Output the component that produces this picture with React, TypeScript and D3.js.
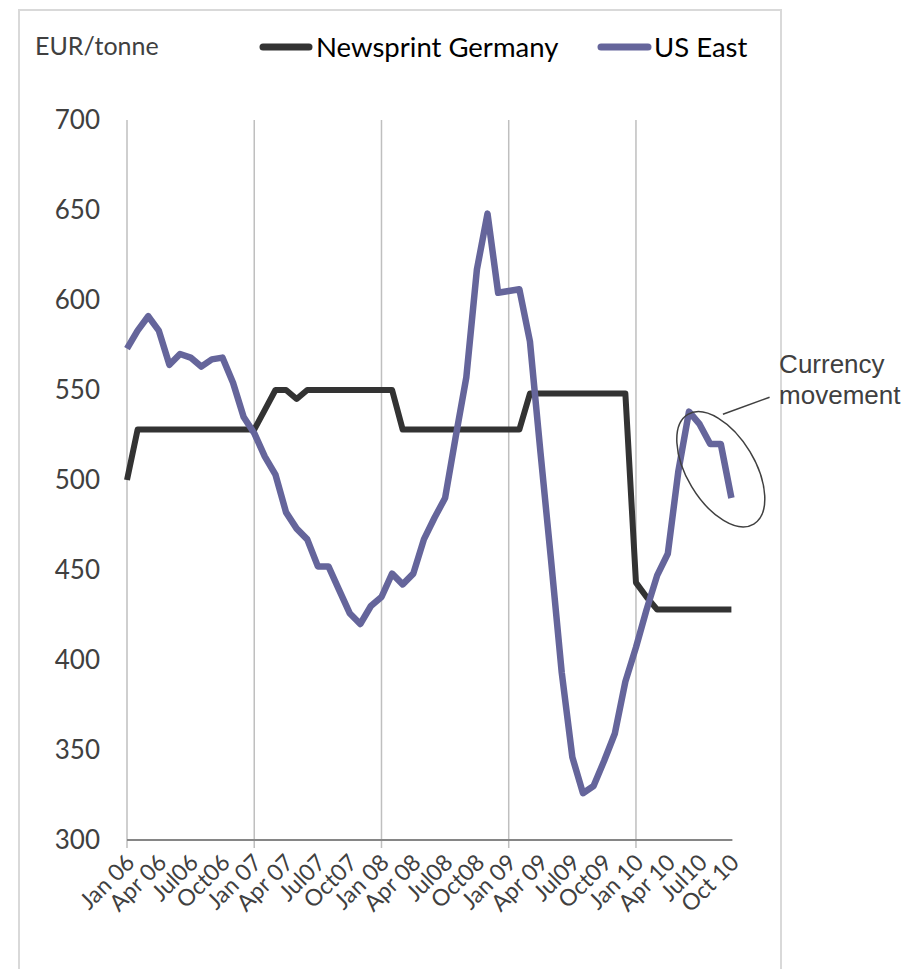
import React from "react";
import * as d3 from "d3";

// Monthly data, Jan 06 .. Oct 10 (58 months)
const germany: number[] = [
  500, 528, 528, 528, 528, 528, 528, 528, 528, 528, 528, 528, 528,
  539, 550, 550, 545, 550, 550, 550, 550, 550, 550, 550, 550, 550,
  528, 528, 528, 528, 528, 528, 528, 528, 528, 528, 528, 528,
  548, 548, 548, 548, 548, 548, 548, 548, 548, 548,
  443, 435, 428, 428, 428, 428, 428, 428, 428, 428,
];
const usEast: number[] = [
  573, 583, 591, 583, 564, 570, 568, 563, 567, 568, 554, 535,
  526, 513, 503, 482, 473, 467, 452, 452, 439, 426, 420, 430,
  435, 448, 442, 448, 467, 479, 490, 524, 557, 617, 648, 604,
  605, 606, 577, 515, 455, 393, 346, 326, 330, 344, 359, 388,
  407, 428, 447, 459, 505, 538, 531, 520, 520, 490,
];
const tickLabels: string[] = [
  "Jan 06", "Apr 06", "Jul06", "Oct06", "Jan 07", "Apr 07", "Jul07", "Oct07",
  "Jan 08", "Apr 08", "Jul08", "Oct08", "Jan 09", "Apr 09", "Jul09", "Oct09",
  "Jan 10", "Apr 10", "Jul10", "Oct 10",
];
const yTicks: number[] = [300, 350, 400, 450, 500, 550, 600, 650, 700];
const yearStarts: number[] = [0, 12, 24, 36, 48];
const seriesNames: string[] = ["Newsprint Germany", "US East"];

export default function App() {
  const W = 907, H = 969;
  const left = 127, right = 731.4, top = 120, bottom = 840;
  const x = d3.scaleLinear().domain([0, 57]).range([left, right]);
  const y = d3.scaleLinear().domain([300, 700]).range([bottom, top]);
  const line = d3
    .line<number>()
    .x((_, i) => x(i))
    .y((d) => y(d))
    .curve(d3.curveLinear);

  const labelFont = "Lato, 'Open Sans', sans-serif";
  const colBlack = "#333333";
  const colPurple = "#65659b";

  // annotation in data coordinates
  const ann = { i: 56, v: 506 };
  const lead = { i0: 56.2, v0: 536.5, i1: 60.6, v1: 546 };
  const annText = { i: 61.5, v1: 559.5, v2: 542 };

  return (
    <svg
      width={W}
      height={H}
      style={{ position: "absolute", left: 0, top: 0, background: "#fff" }}
    >
      <rect x={0} y={0} width={W} height={H} fill="#fff" />
      <rect x={19} y={10} width={762} height={975} fill="none" stroke="#d9d9d9" strokeWidth={2} />

      {/* vertical gridlines at year starts (and tick marks) */}
      {yearStarts.map((m) => (
        <line
          key={m}
          x1={x(m)}
          x2={x(m)}
          y1={top}
          y2={bottom + 8}
          stroke="#bfbfbf"
          strokeWidth={1.5}
        />
      ))}
      {/* x axis line */}
      <line x1={x(0)} x2={x(57) + 1} y1={bottom} y2={bottom} stroke="#868686" strokeWidth={2} />

      {/* y tick labels */}
      {yTicks.map((t) => (
        <text
          key={t}
          x={100}
          y={y(t)}
          dy="0.36em"
          textAnchor="end"
          fontFamily={labelFont}
          fontSize={26}
          fill="#404040"
        >
          {t}
        </text>
      ))}

      {/* x tick labels */}
      {tickLabels.map((lab, k) => {
        const px = x(k * 3);
        return (
          <text
            key={lab + k}
            transform={`translate(${px + 9},${bottom + 24}) rotate(-45)`}
            textAnchor="end"
            fontFamily={labelFont}
            fontSize={23}
            fill="#404040"
          >
            {lab}
          </text>
        );
      })}

      {/* series */}
      <path
        d={line(germany) || ""}
        fill="none"
        stroke={colBlack}
        strokeWidth={6}
        strokeLinejoin="round"
        strokeLinecap="butt"
      />
      <path
        d={line(usEast) || ""}
        fill="none"
        stroke={colPurple}
        strokeWidth={6.5}
        strokeLinejoin="round"
        strokeLinecap="butt"
      />

      {/* axis title */}
      <text x={35} y={55} fontFamily={labelFont} fontSize={25} fill="#404040">
        EUR/tonne
      </text>

      {/* legend */}
      <line x1={263} x2={309} y1={47} y2={47} stroke={colBlack} strokeWidth={7} strokeLinecap="round" />
      <text x={316} y={57} fontFamily={labelFont} fontSize={27.5} fill="#000">
        {seriesNames[0]}
      </text>
      <line x1={601} x2={648} y1={47} y2={47} stroke={colPurple} strokeWidth={7} strokeLinecap="round" />
      <text x={654} y={57} fontFamily={labelFont} fontSize={27.5} fill="#000">
        {seriesNames[1]}
      </text>

      {/* annotation */}
      <ellipse
        cx={x(ann.i)}
        cy={y(ann.v)}
        rx={64}
        ry={34}
        transform={`rotate(59 ${x(ann.i)} ${y(ann.v)})`}
        fill="none"
        stroke="#404040"
        strokeWidth={1.5}
      />
      <line
        x1={x(lead.i0)}
        y1={y(lead.v0)}
        x2={x(lead.i1)}
        y2={y(lead.v1)}
        stroke="#404040"
        strokeWidth={1.5}
      />
      <text
        x={x(annText.i)}
        fontFamily="'Liberation Sans', Arial, sans-serif"
        fontSize={26}
        fill="#404040"
      >
        <tspan x={x(annText.i)} y={y(annText.v1)}>Currency</tspan>
        <tspan x={x(annText.i)} y={y(annText.v2)}>movement</tspan>
      </text>
    </svg>
  );
}
